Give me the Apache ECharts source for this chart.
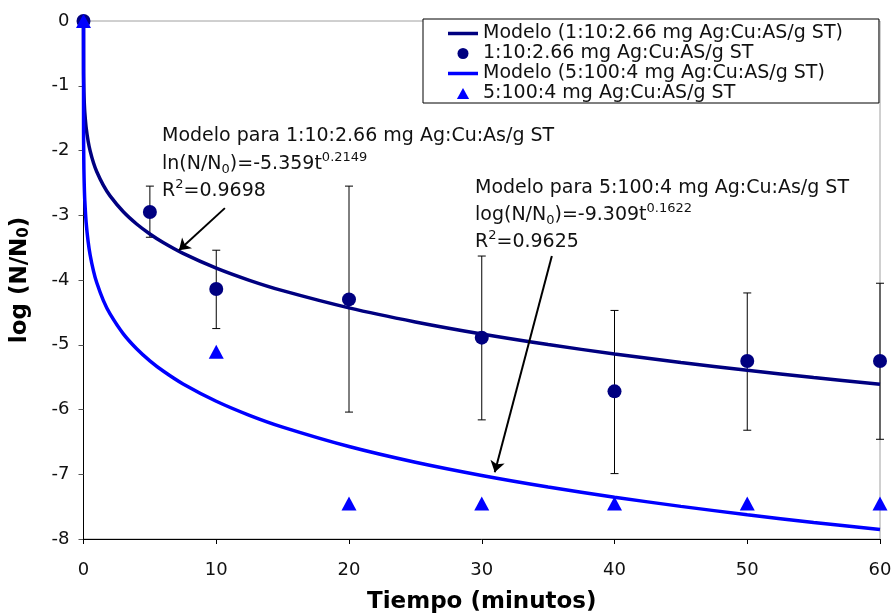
<!DOCTYPE html>
<html>
<head>
<meta charset="utf-8">
<script src="https://cdn.jsdelivr.net/npm/echarts@6/dist/echarts.min.js"></script>
<style>
html,body{margin:0;padding:0;background:#fff;}
#chart{width:893px;height:614px;}
</style>
</head>
<body>
<div id="chart"></div>
<script>
const obsTimes1 = [0, 5, 10, 20, 30, 40, 50, 60];
const obs1 = [0, -2.95, -4.14, -4.30, -4.89, -5.72, -5.25, -5.25];
const err1High = [null, -2.55, -3.54, -2.55, -3.63, -4.47, -4.20, -4.05];
const err1Low = [null, -3.34, -4.75, -6.04, -6.16, -6.99, -6.32, -6.46];

const obsTimes2 = [0, 10, 20, 30, 40, 50, 60];
const obs2 = [0, -5.11, -7.45, -7.45, -7.45, -7.45, -7.45];

// Model curves
const modelTimes = [0, 0.005, 0.01, 0.03, 0.06, 0.1, 0.2, 0.35, 0.5, 0.75, 1, 1.5, 2, 3, 4, 5, 6, 7.5, 10, 12.5, 15, 20, 25, 30, 35, 40, 45, 50, 55, 60];
const model1 = [0, -0.745, -0.865, -1.095, -1.271, -1.419, -1.647, -1.857, -2.005, -2.188, -2.327, -2.539, -2.701, -2.947, -3.135, -3.289, -3.421, -3.589, -3.817, -4.005, -4.165, -4.431, -4.648, -4.834, -4.997, -5.142, -5.274, -5.395, -5.506, -5.610];
const model2 = [0, -1.712, -1.915, -2.289, -2.562, -2.783, -3.114, -3.410, -3.613, -3.858, -4.043, -4.318, -4.524, -4.832, -5.062, -5.249, -5.406, -5.606, -5.873, -6.090, -6.272, -6.572, -6.815, -7.019, -7.197, -7.354, -7.496, -7.625, -7.744, -7.854];

// Axis ticks
const xTicks = [0, 10, 20, 30, 40, 50, 60];
const yTicks = [0, -1, -2, -3, -4, -5, -6, -7, -8];

const seriesNames = [
  'Modelo (1:10:2.66 mg Ag:Cu:AS/g ST)',
  '1:10:2.66 mg Ag:Cu:AS/g ST',
  'Modelo (5:100:4 mg Ag:Cu:AS/g ST)',
  '5:100:4 mg Ag:Cu:AS/g ST'
];

// Arrow endpoints (data coords)
const arrow1 = [[10.65, -2.89], [7.19, -3.54]];
const arrow2 = [[35.28, -3.63], [30.98, -6.97]];

const FONT = "'DejaVu Sans', Verdana, sans-serif";
const NAVY = '#000080';
const BLUE = '#0000ff';

const zip = (a, b) => a.map((v, i) => [v, b[i]]);
const errData = obsTimes1.map((t, i) => [t, err1High[i], err1Low[i]]).filter(d => d[1] !== null);

const chart = echarts.init(document.getElementById('chart'));

const supStyle = { fontSize: 13, fontFamily: FONT, color: '#111', verticalAlign: 'top', lineHeight: 25 };
const subStyle = { fontSize: 13, fontFamily: FONT, color: '#111', verticalAlign: 'bottom', lineHeight: 25 };
const mainStyle = { fontSize: 19, fontFamily: FONT, color: '#111', lineHeight: 25 };

function annText(x, y, text) {
  return {
    type: 'text', x: x, y: y, z: 100,
    style: {
      text: text,
      fill: '#111',
      font: '19px ' + FONT,
      verticalAlign: 'middle',
      align: 'left',
      rich: { m: mainStyle, sup: supStyle, sub: subStyle }
    }
  };
}

const lineIcon = 'path://M0,0H30V3.5H0Z';
const triIcon = 'path://M5,0L10,9L0,9Z';

const option = {
  animation: false,
  backgroundColor: '#ffffff',
  grid: {
    left: 83.5, right: 13, top: 21, bottom: 75,
    outerBoundsMode: 'none',
    show: true, borderColor: '#a0a0a0', borderWidth: 1, backgroundColor: 'transparent'
  },
  legend: {
    orient: 'vertical',
    left: 423, top: 19,
    backgroundColor: '#ffffff',
    borderColor: '#000', borderWidth: 1, borderRadius: 0,
    padding: [5, 36, 0, 25],
    itemWidth: 30, itemHeight: 11, itemGap: 1,
    selectedMode: false,
    textStyle: { fontSize: 19, fontFamily: FONT, color: '#111' },
    data: [
      { name: seriesNames[0], icon: lineIcon, itemStyle: { color: NAVY } },
      { name: seriesNames[1], icon: 'circle', itemStyle: { color: NAVY } },
      { name: seriesNames[2], icon: lineIcon, itemStyle: { color: BLUE } },
      { name: seriesNames[3], icon: triIcon, itemStyle: { color: BLUE } }
    ]
  },
  xAxis: {
    type: 'value', min: 0, max: 60, interval: 10,
    name: 'Tiempo (minutos)', nameLocation: 'middle', nameGap: 52,
    nameTextStyle: { fontSize: 23, fontWeight: 'bold', fontFamily: FONT, color: '#000' },
    axisLine: { show: true, onZero: false, lineStyle: { color: '#000', width: 1 } },
    axisTick: { show: true, inside: false, length: 5, lineStyle: { color: '#000' } },
    axisLabel: { fontSize: 18, fontFamily: FONT, color: '#111', margin: 22,
      formatter: v => xTicks.includes(v) ? String(v) : '' },
    splitLine: { show: false }
  },
  yAxis: {
    type: 'value', min: -8, max: 0, interval: 1,
    name: 'log (N/N{sub|0})', nameLocation: 'middle', nameGap: 52, nameRotate: 90,
    nameTextStyle: { fontSize: 23, fontWeight: 'bold', fontFamily: FONT, color: '#000',
      rich: { sub: { fontSize: 15, fontWeight: 'bold', fontFamily: FONT, color: '#000', verticalAlign: 'bottom', padding: [6, 0, 0, 0] } } },
    axisLine: { show: true, onZero: false, lineStyle: { color: '#000', width: 1 } },
    axisTick: { show: true, inside: false, length: 5, lineStyle: { color: '#555' } },
    axisLabel: { fontSize: 18, fontFamily: FONT, color: '#111', margin: 14,
      formatter: v => yTicks.includes(v) ? String(v) : '' },
    splitLine: { show: false }
  },
  series: [
    {
      name: seriesNames[0], type: 'line', data: zip(modelTimes, model1),
      showSymbol: false, symbol: 'none', smooth: 0.3, z: 3,
      lineStyle: { color: NAVY, width: 3.5 }, itemStyle: { color: NAVY },
      markLine: {
        silent: true, symbol: ['none', 'arrow'], symbolSize: 11,
        label: { show: false },
        emphasis: { disabled: true },
        lineStyle: { color: '#000', width: 2, type: 'solid' },
        itemStyle: { color: '#000' },
        data: [
          [{ coord: arrow1[0] }, { coord: arrow1[1] }],
          [{ coord: arrow2[0] }, { coord: arrow2[1] }]
        ]
      }
    },
    {
      name: 'err', type: 'custom', z: 2,
      data: errData,
      renderItem: function (params, api) {
        const x = api.value(0);
        const top = api.coord([x, api.value(1)]);
        const bot = api.coord([x, api.value(2)]);
        const cap = 4;
        return {
          type: 'group',
          children: [
            { type: 'line', shape: { x1: top[0], y1: top[1], x2: bot[0], y2: bot[1] }, style: { stroke: '#000', lineWidth: 1 } },
            { type: 'line', shape: { x1: top[0] - cap, y1: top[1], x2: top[0] + cap, y2: top[1] }, style: { stroke: '#000', lineWidth: 1 } },
            { type: 'line', shape: { x1: bot[0] - cap, y1: bot[1], x2: bot[0] + cap, y2: bot[1] }, style: { stroke: '#000', lineWidth: 1 } }
          ]
        };
      }
    },
    {
      name: seriesNames[1], type: 'scatter', data: zip(obsTimes1, obs1),
      symbol: 'circle', symbolSize: 14, z: 4, clip: false,
      itemStyle: { color: NAVY, opacity: 1 }
    },
    {
      name: seriesNames[2], type: 'line', data: zip(modelTimes, model2),
      showSymbol: false, symbol: 'none', smooth: 0.3, z: 5,
      lineStyle: { color: BLUE, width: 3.5 }, itemStyle: { color: BLUE }
    },
    {
      name: seriesNames[3], type: 'scatter', data: zip(obsTimes2, obs2),
      symbol: 'triangle', symbolSize: [15, 14], z: 6, clip: false,
      itemStyle: { color: BLUE, opacity: 1 }
    }
  ],
  graphic: [
    annText(162, 136, 'Modelo para 1:10:2.66 mg Ag:Cu:As/g ST'),
    annText(162, 164, '{m|ln(N/N}{sub|0}{m|)=-5.359t}{sup|0.2149}'),
    annText(162, 191, '{m|R}{sup|2}{m|=0.9698}'),
    annText(475, 188, 'Modelo para 5:100:4 mg Ag:Cu:As/g ST'),
    annText(475, 215, '{m|log(N/N}{sub|0}{m|)=-9.309t}{sup|0.1622}'),
    annText(475, 242, '{m|R}{sup|2}{m|=0.9625}')
  ]
};

chart.setOption(option);
</script>
</body>
</html>
